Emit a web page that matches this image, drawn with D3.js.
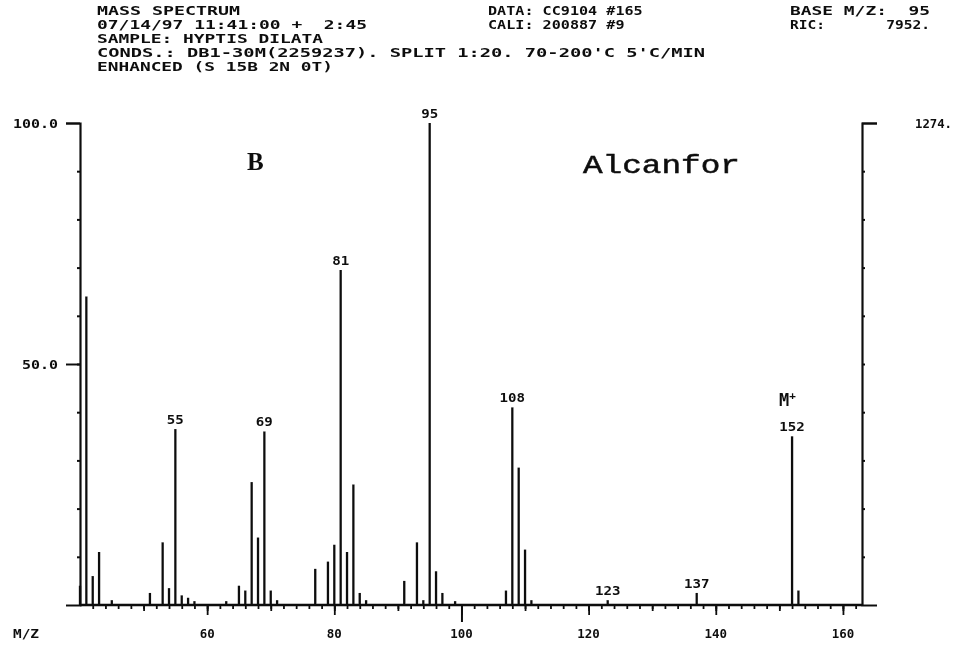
<!DOCTYPE html>
<html>
<head>
<meta charset="utf-8">
<script src="https://cdn.jsdelivr.net/npm/d3@7/dist/d3.min.js"></script>
<style>
  body { margin: 0; background: #fff; }
  svg text { font-family: "DejaVu Sans Mono", monospace; font-weight: bold; fill: #111; white-space: pre; }
</style>
</head>
<body>
<div id="chart"></div>
<script>
// m/z values and relative intensity (% of base peak m/z 95)
const mz = [40, 41, 42, 43, 45, 51, 53, 54, 55, 56, 57, 58, 63, 65, 66, 67, 68, 69, 70, 71, 77, 79, 80, 81, 82, 83, 84, 85, 91, 93, 94, 95, 96, 97, 99, 107, 108, 109, 110, 111, 123, 137, 152, 153];
const intensity = [4, 64, 6, 11, 1, 2.5, 13, 3.5, 36.5, 2, 1.5, 0.8, 0.8, 4, 3, 25.5, 14, 36, 3, 1, 7.5, 9, 12.5, 69.5, 11, 25, 2.5, 1, 5, 13, 1, 100, 7, 2.5, 0.8, 3, 41, 28.5, 11.5, 1, 1, 2.5, 35, 3];
const labelledPeaks = [55, 69, 81, 95, 108, 123, 137, 152];

const xTickValues = [60, 80, 100, 120, 140, 160];
const yTickValues = [50, 100];
const yTickLabels = ['50.0', '100.0'];
const rightTopLabel = '1274.';

const headerLeft = [
  'MASS SPECTRUM',
  '07/14/97 11:41:00 +  2:45',
  'SAMPLE: HYPTIS DILATA',
  "CONDS.: DB1-30M(2259237). SPLIT 1:20. 70-200'C 5'C/MIN",
  'ENHANCED (S 15B 2N 0T)'
];
const headerMid = ['DATA: CC9104 #165', 'CALI: 200887 #9'];
const headerRight = ['BASE M/Z:  95', 'RIC:       7952.'];

const width = 972, height = 648;
const svg = d3.select('#chart').append('svg')
  .attr('width', width)
  .attr('height', height);

// slight blur, the reference is a scanned printout
svg.append('defs').append('filter').attr('id', 'soft')
  .append('feGaussianBlur').attr('stdDeviation', 0.45);

const g = svg.append('g').attr('filter', 'url(#soft)');

const x = d3.scaleLinear().domain([40, 163]).range([80, 862]);
const y = d3.scaleLinear().domain([0, 100]).range([605, 123]);

// header block
const leftSpans = [143, 270, 226, 608, 236];
g.selectAll('.hl').data(headerLeft).enter().append('text')
  .attr('class', 'hl')
  .attr('x', 97)
  .attr('y', (d, i) => 15 + i * 14)
  .attr('font-size', 13)
  .attr('textLength', (d, i) => leftSpans[i])
  .attr('lengthAdjust', 'spacingAndGlyphs')
  .text(d => d);
g.selectAll('.hm').data(headerMid).enter().append('text')
  .attr('class', 'hm')
  .attr('x', 488)
  .attr('y', (d, i) => 15 + i * 14)
  .attr('font-size', 13)
  .attr('textLength', d => d.length * 9.1)
  .attr('lengthAdjust', 'spacingAndGlyphs')
  .text(d => d);
g.selectAll('.hr').data(headerRight).enter().append('text')
  .attr('class', 'hr')
  .attr('x', 790)
  .attr('y', (d, i) => 15 + i * 14)
  .attr('font-size', 13)
  .attr('textLength', 140)
  .attr('lengthAdjust', 'spacingAndGlyphs')
  .text(d => d);

// x axis: minor ticks every 2, medium every 10, major every 20
const xMinor = d3.range(42, 163, 2);
const xMid = d3.range(50, 163, 10);
[[xMinor, 4], [xMid, 6], [xTickValues, 10]].forEach(([vals, size]) => {
  const ax = g.append('g')
    .attr('transform', `translate(0,${y(0)})`)
    .call(d3.axisBottom(x).tickValues(vals).tickSize(size).tickFormat(''));
  ax.select('.domain').remove();
  ax.selectAll('line').attr('stroke', '#111').attr('stroke-width', 1.8);
});
// longer tick at 100
g.append('g')
  .attr('transform', `translate(0,${y(0)})`)
  .call(d3.axisBottom(x).tickValues([100]).tickSize(17).tickFormat(''))
  .call(a => a.select('.domain').remove())
  .selectAll('line').attr('stroke', '#111').attr('stroke-width', 2);

g.selectAll('.xlab').data(xTickValues).enter().append('text')
  .attr('class', 'xlab')
  .attr('x', d => x(d))
  .attr('y', 638)
  .attr('text-anchor', 'middle')
  .attr('font-size', 13)
  .attr('textLength', d => String(d).length * 7.5)
  .attr('lengthAdjust', 'spacingAndGlyphs')
  .text(d => d);
g.append('text')
  .attr('x', 13).attr('y', 638)
  .attr('font-size', 13)
  .attr('textLength', 26)
  .attr('lengthAdjust', 'spacingAndGlyphs')
  .text('M/Z');

// baseline
g.append('line')
  .attr('x1', x(40)).attr('x2', x(163))
  .attr('y1', y(0)).attr('y2', y(0))
  .attr('stroke', '#111').attr('stroke-width', 2.6);

// left axis
const yMinor = d3.range(10, 100, 10);
g.append('g')
  .attr('transform', `translate(${x(40)},0)`)
  .call(d3.axisLeft(y).tickValues(yMinor).tickSize(3).tickFormat(''))
  .call(a => a.select('.domain').remove())
  .selectAll('line').attr('stroke', '#111').attr('stroke-width', 2);
const leftAx = g.append('g')
  .attr('transform', `translate(${x(40)},0)`)
  .call(d3.axisLeft(y).tickValues(yTickValues).tickSize(14).tickPadding(8)
    .tickFormat((d, i) => yTickLabels[i]));
leftAx.select('.domain').attr('stroke', '#111').attr('stroke-width', 2.2);
leftAx.selectAll('line').attr('stroke', '#111').attr('stroke-width', 2);
leftAx.selectAll('text').attr('font-size', 13)
  .attr('textLength', (d, i) => yTickLabels[i].length * 9)
  .attr('lengthAdjust', 'spacingAndGlyphs');

// right axis
g.append('g')
  .attr('transform', `translate(${x(163)},0)`)
  .call(d3.axisRight(y).tickValues(yMinor).tickSize(3).tickFormat(''))
  .call(a => a.select('.domain').remove())
  .selectAll('line').attr('stroke', '#111').attr('stroke-width', 2);
const rightAx = g.append('g')
  .attr('transform', `translate(${x(163)},0)`)
  .call(d3.axisRight(y).tickValues([100]).tickSize(15).tickFormat(''));
rightAx.select('.domain').attr('stroke', '#111').attr('stroke-width', 2.2);
rightAx.selectAll('line').attr('stroke', '#111').attr('stroke-width', 2);
g.append('text')
  .attr('x', 915).attr('y', y(100) + 5)
  .attr('font-size', 13)
  .attr('textLength', 37)
  .attr('lengthAdjust', 'spacingAndGlyphs')
  .text(rightTopLabel);

// peaks
g.selectAll('.peak').data(mz).enter().append('line')
  .attr('class', 'peak')
  .attr('x1', d => x(d)).attr('x2', d => x(d))
  .attr('y1', y(0))
  .attr('y2', (d, i) => y(intensity[i]))
  .attr('stroke', '#111')
  .attr('stroke-width', 2.3);

// peak labels
g.selectAll('.plab').data(labelledPeaks).enter().append('text')
  .attr('class', 'plab')
  .attr('x', d => x(d))
  .attr('y', d => y(intensity[mz.indexOf(d)]) - 5)
  .attr('text-anchor', 'middle')
  .attr('font-size', 13)
  .attr('textLength', d => String(d).length * 8.5)
  .attr('lengthAdjust', 'spacingAndGlyphs')
  .text(d => d);

// molecular ion marker
const m = g.append('text')
  .attr('x', x(152) - 13).attr('y', y(35) - 30)
  .attr('font-size', 17);
m.append('tspan').text('M');
m.append('tspan').attr('dy', -7).attr('font-size', 11).text('+');

// panel letter and compound name
g.append('text')
  .attr('x', 247).attr('y', 170)
  .style('font-family', '"Liberation Serif", serif')
  .attr('font-size', 25)
  .text('B');
g.append('text')
  .attr('x', 583).attr('y', 173)
  .style('font-family', '"Liberation Mono", "Courier New", monospace')
  .style('font-weight', 'normal')
  .style('stroke', '#111')
  .style('stroke-width', 0.5)
  .attr('font-size', 25)
  .attr('textLength', 157)
  .attr('lengthAdjust', 'spacingAndGlyphs')
  .text('Alcanfor');
</script>
</body>
</html>
